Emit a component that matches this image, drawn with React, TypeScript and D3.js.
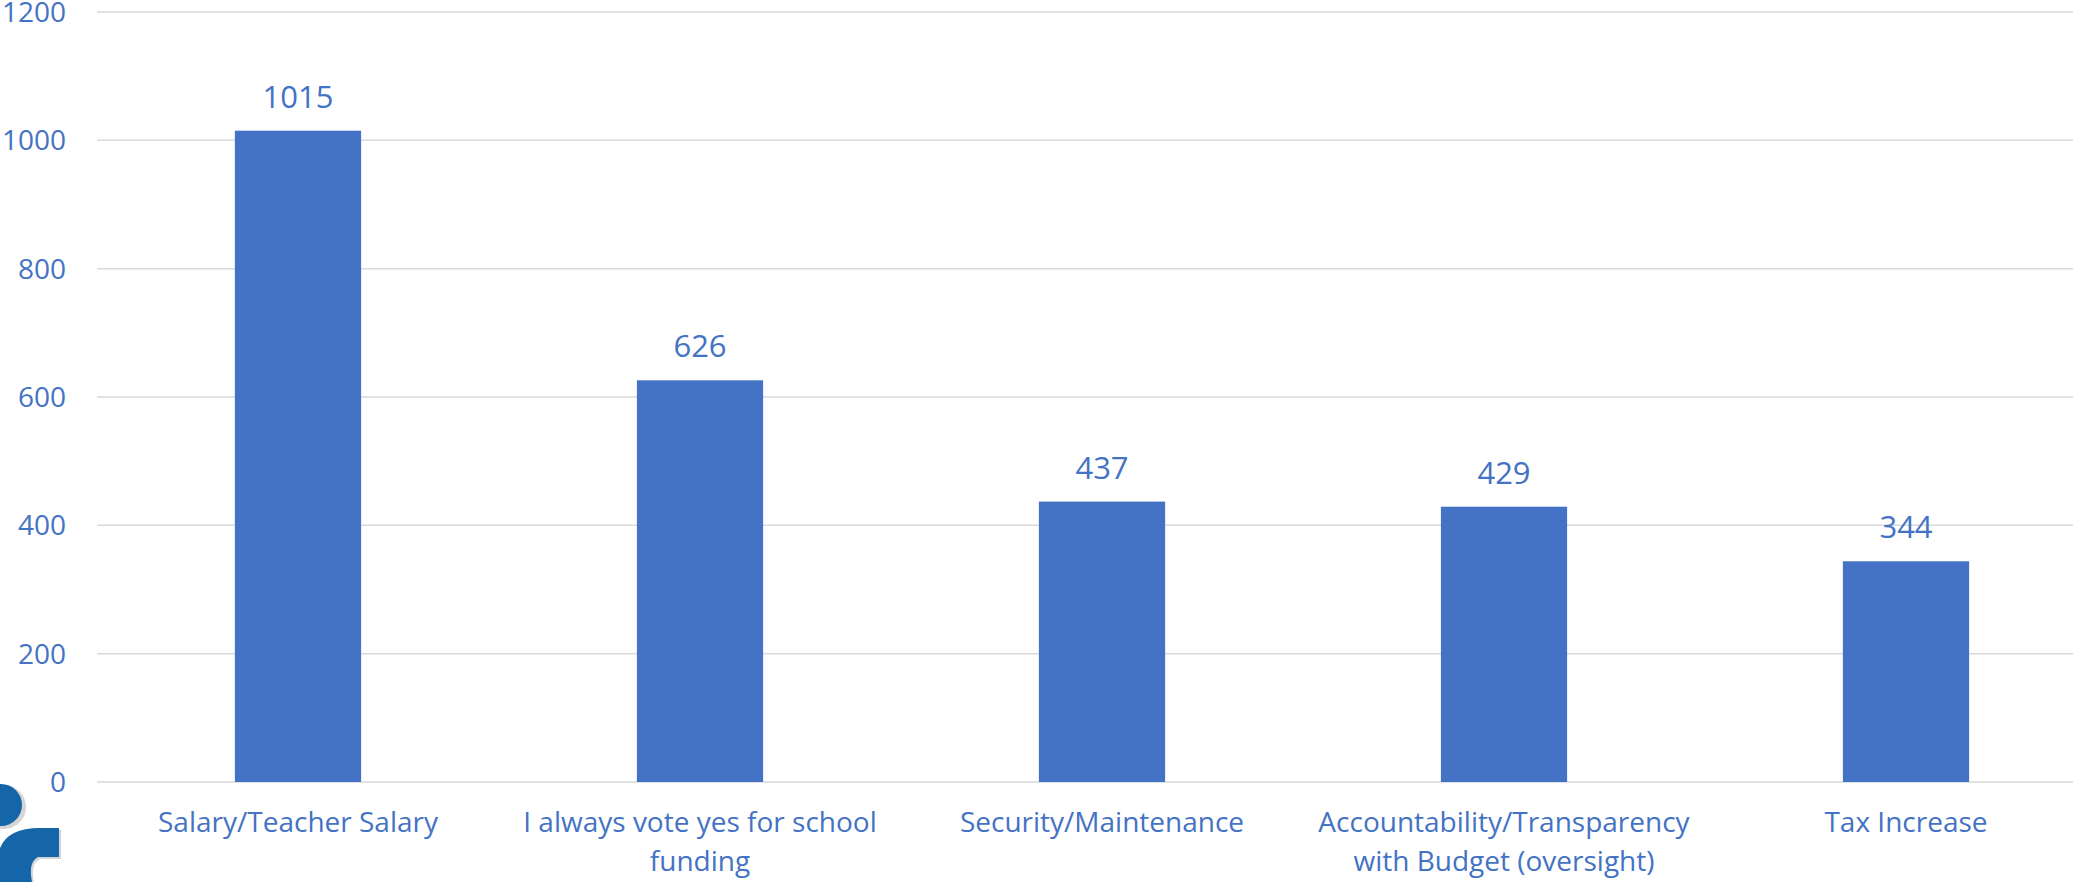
import React from "react";
import * as d3 from "d3";

const categories: string[][] = [
  ["Salary/Teacher Salary"],
  ["I always vote yes for school", "funding"],
  ["Security/Maintenance"],
  ["Accountability/Transparency", "with Budget (oversight)"],
  ["Tax Increase"],
];
const values: number[] = [1015, 626, 437, 429, 344];
const yTicks: number[] = [0, 200, 400, 600, 800, 1000, 1200];

const W = 2073;
const H = 882;
const BLUE = "#4472C4";
const FONT = "'Open Sans', 'Liberation Sans', sans-serif";

export default function App() {
  const keys = categories.map((c) => c.join(" "));
  const x = d3
    .scaleBand<string>()
    .domain(keys)
    .range([97, 2107])
    .paddingInner(0.686)
    .paddingOuter(0.343);
  const y = d3.scaleLinear().domain([0, 1200]).range([782, 12]);

  return (
    <svg
      width={W}
      height={H}
      style={{ position: "absolute", left: 0, top: 0, background: "#fff" }}
      fontFamily={FONT}
    >
      {yTicks.map((t) => (
        <g key={t}>
          <line x1={97} x2={W} y1={y(t)} y2={y(t)} stroke="#d9d9d9" strokeWidth={1.5} />
          <text x={66} y={y(t) + 10} textAnchor="end" fontSize={28} fill={BLUE}>
            {t}
          </text>
        </g>
      ))}
      {values.map((v, i) => {
        const k = keys[i];
        const bx = x(k)!;
        const cx = bx + x.bandwidth() / 2;
        return (
          <g key={k}>
            <rect x={bx} y={y(v)} width={x.bandwidth()} height={y(0) - y(v)} fill={BLUE} />
            <text x={cx} y={y(v) - 23} textAnchor="middle" fontSize={31} fill={BLUE}>
              {v}
            </text>
            <text textAnchor="middle" fontSize={28} fill={BLUE}>
              {categories[i].map((line, j) => (
                <tspan key={j} x={cx} y={832 + j * 38.5}>
                  {line}
                </tspan>
              ))}
            </text>
          </g>
        );
      })}
      {/* logo fragment bottom-left */}
      <g>
        <circle cx={4} cy={807} r={22} fill="#888" opacity={0.35} />
        <circle cx={1} cy={805} r={21} fill="#1565A9" />
        <path
          d="M 61 830 L 61 859 L 40 859 Q 30 864 34 882 L 2 882 L 2 850 Q 10 830 42 830 Z"
          fill="#888"
          opacity={0.35}
        />
        <path
          d="M 59 828 L 59 857 L 38 857 Q 28 862 32 882 L 0 882 L 0 848 Q 8 828 40 828 Z"
          fill="#1565A9"
        />
      </g>
    </svg>
  );
}
